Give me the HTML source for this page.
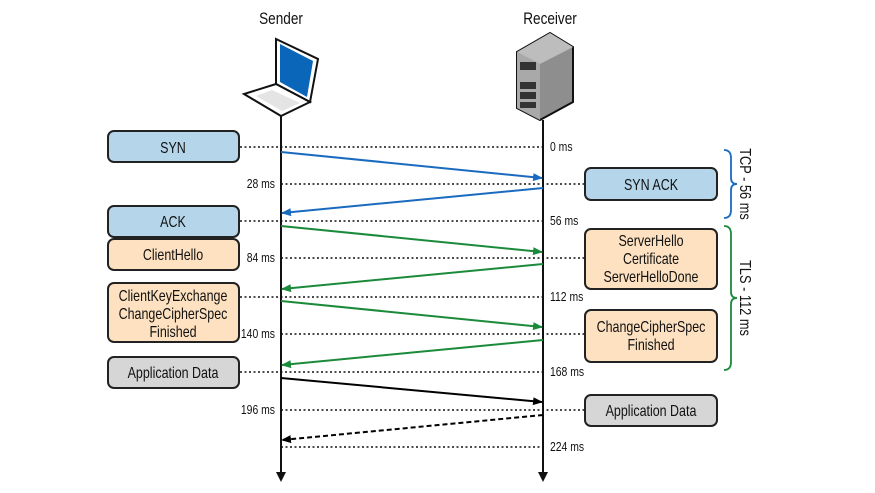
<!DOCTYPE html>
<html><head><meta charset="utf-8"><style>
html,body{margin:0;padding:0;background:#fff;}
svg{display:block;}
text{font-family:"Liberation Sans Narrow","Liberation Sans",sans-serif;fill:#111;}
</style></head><body>
<svg width="875" height="493" viewBox="0 0 875 493" xmlns="http://www.w3.org/2000/svg">
<defs>
<marker id="ab" markerWidth="10" markerHeight="8" refX="9" refY="4" orient="auto" markerUnits="userSpaceOnUse"><path d="M0,0 L10,4 L0,8 z" fill="#1a6bbf"/></marker>
<marker id="ag" markerWidth="10" markerHeight="8" refX="9" refY="4" orient="auto" markerUnits="userSpaceOnUse"><path d="M0,0 L10,4 L0,8 z" fill="#1b8a3a"/></marker>
<marker id="ak" markerWidth="10" markerHeight="8" refX="9" refY="4" orient="auto" markerUnits="userSpaceOnUse"><path d="M0,0 L10,4 L0,8 z" fill="#000"/></marker>
</defs>
<g transform="translate(281,0) scale(0.8,1)"><text x="0" y="24" font-size="17" text-anchor="middle">Sender</text></g>
<g transform="translate(550,0) scale(0.8,1)"><text x="0" y="24" font-size="17" text-anchor="middle">Receiver</text></g>
<!-- laptop -->
<polygon points="276,39 318,59 310,102 276,84" fill="#fff" stroke="#111" stroke-width="2"/>
<polygon points="280,44 313,61 307,97 280,82" fill="#0a66b8"/>
<polygon points="276,84 310,102 281,116 244,94" fill="#fff" stroke="#111" stroke-width="2"/>
<polygon points="272,90 300,103 282,111 256,96" fill="#e4e4e4"/>
<!-- server -->
<polygon points="517,52 550,33 573,47 573,102 540,120 517,108" fill="#8e8e8e" stroke="#111" stroke-width="2"/>
<polygon points="517,52 540,64 573,47 550,33" fill="#bdbdbd"/>
<polygon points="517,52 540,64 540,120 517,108" fill="#a9a9a9"/>
<g fill="#333"><rect x="520" y="62" width="16" height="8"/><rect x="520" y="82" width="16" height="7"/><rect x="520" y="92" width="16" height="7"/><rect x="520" y="102" width="16" height="6"/></g>
<line x1="281" y1="116" x2="281" y2="474" stroke="#111" stroke-width="2"/>
<polygon points="276,472 286,472 281,482" fill="#111"/>
<line x1="543" y1="120" x2="543" y2="474" stroke="#111" stroke-width="2"/>
<polygon points="538,472 548,472 543,482" fill="#111"/>
<!-- dotted lines -->
<g stroke="#111" stroke-width="1.6" stroke-dasharray="2,2.5">
<line x1="240" y1="147" x2="543" y2="147"/>
<line x1="281" y1="184" x2="585" y2="184"/>
<line x1="240" y1="221" x2="543" y2="221"/>
<line x1="281" y1="258" x2="585" y2="258"/>
<line x1="240" y1="297" x2="543" y2="297"/>
<line x1="281" y1="334" x2="585" y2="334"/>
<line x1="240" y1="372" x2="543" y2="372"/>
<line x1="281" y1="410" x2="585" y2="410"/>
<line x1="281" y1="447" x2="543" y2="447"/>
</g>
<g font-size="13">
<g transform="translate(550,0) scale(0.8,1)"><text x="0" y="151">0 ms</text></g>
<g transform="translate(275,0) scale(0.8,1)"><text x="0" y="188" text-anchor="end">28 ms</text></g>
<g transform="translate(550,0) scale(0.8,1)"><text x="0" y="225">56 ms</text></g>
<g transform="translate(275,0) scale(0.8,1)"><text x="0" y="262" text-anchor="end">84 ms</text></g>
<g transform="translate(550,0) scale(0.8,1)"><text x="0" y="301">112 ms</text></g>
<g transform="translate(275,0) scale(0.8,1)"><text x="0" y="338" text-anchor="end">140 ms</text></g>
<g transform="translate(550,0) scale(0.8,1)"><text x="0" y="376">168 ms</text></g>
<g transform="translate(275,0) scale(0.8,1)"><text x="0" y="414" text-anchor="end">196 ms</text></g>
<g transform="translate(550,0) scale(0.8,1)"><text x="0" y="451">224 ms</text></g>
</g>
<!-- arrows -->
<g stroke-width="2" fill="none">
<line x1="281" y1="152" x2="542" y2="178" stroke="#1a6bbf" marker-end="url(#ab)"/>
<line x1="543" y1="188" x2="282" y2="213" stroke="#1a6bbf" marker-end="url(#ab)"/>
<line x1="281" y1="226" x2="542" y2="252" stroke="#1b8a3a" marker-end="url(#ag)"/>
<line x1="543" y1="264" x2="282" y2="289" stroke="#1b8a3a" marker-end="url(#ag)"/>
<line x1="281" y1="301" x2="542" y2="327" stroke="#1b8a3a" marker-end="url(#ag)"/>
<line x1="543" y1="340" x2="282" y2="365" stroke="#1b8a3a" marker-end="url(#ag)"/>
<line x1="281" y1="378" x2="542" y2="402" stroke="#000" marker-end="url(#ak)"/>
<line x1="543" y1="415" x2="282" y2="440" stroke="#000" stroke-dasharray="5,3" marker-end="url(#ak)"/>
</g>
<!-- boxes -->
<g stroke="#222" stroke-width="2">
<rect x="108" y="131" width="131" height="31" rx="6" fill="#b5d6ea"/>
<rect x="108" y="206" width="131" height="31" rx="6" fill="#b5d6ea"/>
<rect x="108" y="239" width="131" height="31" rx="6" fill="#fde1c0"/>
<rect x="108" y="283" width="131" height="59" rx="6" fill="#fde1c0"/>
<rect x="108" y="357" width="131" height="31" rx="6" fill="#d6d6d6"/>
<rect x="585" y="168" width="132" height="32" rx="6" fill="#b5d6ea"/>
<rect x="585" y="229" width="132" height="60" rx="6" fill="#fde1c0"/>
<rect x="585" y="310" width="132" height="52" rx="6" fill="#fde1c0"/>
<rect x="585" y="395" width="132" height="31" rx="6" fill="#d6d6d6"/>
</g>
<g font-size="16" text-anchor="middle">
<g transform="translate(173,0) scale(0.78,1)">
<text x="0" y="153">SYN</text>
<text x="0" y="227">ACK</text>
<text x="0" y="260">ClientHello</text>
<text x="0" y="301">ClientKeyExchange</text>
<text x="0" y="319">ChangeCipherSpec</text>
<text x="0" y="337">Finished</text>
<text x="0" y="378">Application Data</text>
</g>
<g transform="translate(651,0) scale(0.78,1)">
<text x="0" y="190">SYN ACK</text>
<text x="0" y="246">ServerHello</text>
<text x="0" y="264">Certificate</text>
<text x="0" y="282">ServerHelloDone</text>
<text x="0" y="332">ChangeCipherSpec</text>
<text x="0" y="350">Finished</text>
<text x="0" y="416">Application Data</text>
</g>
</g>
<!-- braces -->
<path d="M724,150 Q731,150 731,158 L731,178 Q731,184 737,184 Q731,184 731,190 L731,210 Q731,218 724,218" stroke="#1a6bbf" stroke-width="1.8" fill="none"/>
<path d="M724,226 Q731,226 731,234 L731,292 Q731,298 737,298 Q731,298 731,304 L731,362 Q731,370 724,370" stroke="#1b8a3a" stroke-width="1.8" fill="none"/>
<g transform="translate(740,184) rotate(90) scale(0.8,1)"><text x="0" y="0" font-size="16" text-anchor="middle">TCP - 56 ms</text></g>
<g transform="translate(740,298) rotate(90) scale(0.8,1)"><text x="0" y="0" font-size="16" text-anchor="middle">TLS - 112 ms</text></g>
</svg>
</body></html>
